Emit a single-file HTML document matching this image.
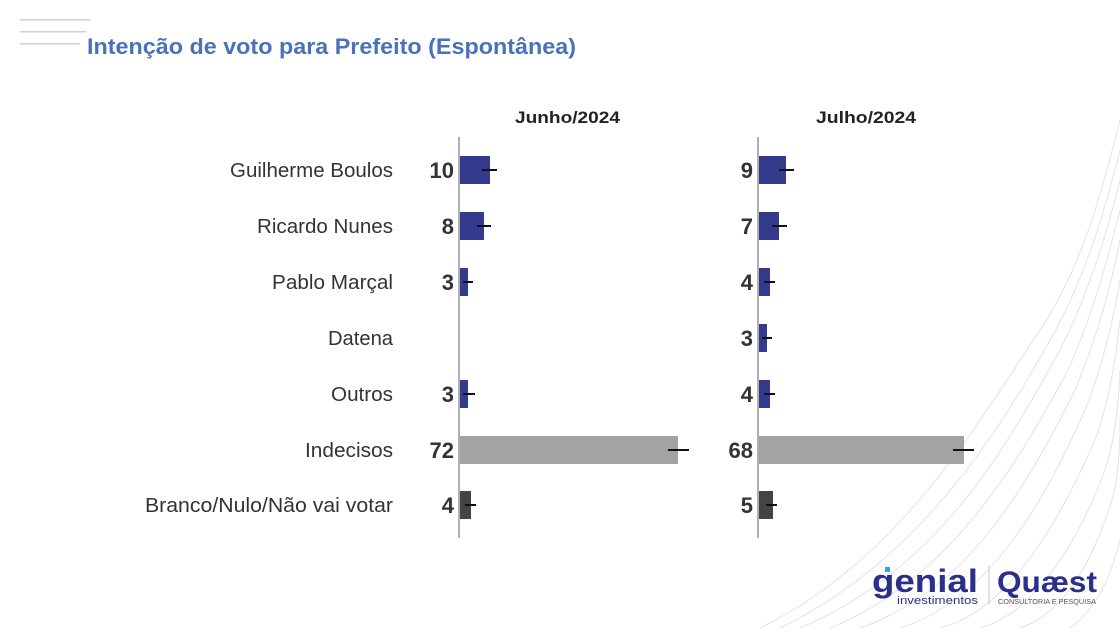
<!DOCTYPE html>
<html><head><meta charset="utf-8"><style>
body{margin:0;width:1120px;height:628px;background:#fff;overflow:hidden;font-family:"Liberation Sans",sans-serif;}
</style></head><body>
<svg width="1120" height="628" xmlns="http://www.w3.org/2000/svg" font-family="Liberation Sans, sans-serif">
<g stroke="#d8dce4" fill="none" stroke-width="1" opacity="0.8">
<path d="M760 628 C900 560 980 420 1040 330 C1080 270 1100 200 1120 120"/>
<path d="M780 628 C920 560 1000 430 1050 340 C1085 280 1105 210 1120 150"/>
<path d="M800 628 C940 570 1010 440 1060 350 C1090 290 1108 230 1120 180"/>
<path d="M830 628 C950 580 1020 460 1068 370 C1095 310 1110 250 1120 210"/>
<path d="M860 628 C970 590 1030 480 1075 390 C1100 330 1112 280 1120 240"/>
<path d="M900 628 C990 600 1045 500 1085 410 C1105 360 1115 310 1120 280"/>
<path d="M940 628 C1010 610 1060 520 1095 440 C1110 400 1117 350 1120 320"/>
<path d="M980 628 C1030 615 1075 550 1105 470 C1115 440 1119 400 1120 370"/>
<path d="M1020 628 C1060 615 1090 570 1112 500 C1118 480 1120 450 1120 420"/>
<path d="M1070 628 C1095 610 1110 580 1120 540"/>
</g>
<g fill="#d0d0d0">
<rect x="20" y="19" width="70" height="1.5"/><rect x="20" y="31" width="66" height="1.5"/><rect x="20" y="43" width="60" height="1.5"/>
</g>
<text x="87" y="54" font-size="22" font-weight="bold" fill="#4a72b8" textLength="489" lengthAdjust="spacingAndGlyphs">Intenção de voto para Prefeito (Espontânea)</text>
<text x="515" y="123" font-size="17" font-weight="bold" fill="#222" textLength="105" lengthAdjust="spacingAndGlyphs">Junho/2024</text>
<text x="816" y="123" font-size="17" font-weight="bold" fill="#222" textLength="100" lengthAdjust="spacingAndGlyphs">Julho/2024</text>
<g font-size="20" fill="#333" text-anchor="end" lengthAdjust="spacingAndGlyphs">
<text x="393" y="177" textLength="163" lengthAdjust="spacingAndGlyphs">Guilherme Boulos</text>
<text x="393" y="233" textLength="136" lengthAdjust="spacingAndGlyphs">Ricardo Nunes</text>
<text x="393" y="289" textLength="121" lengthAdjust="spacingAndGlyphs">Pablo Marçal</text>
<text x="393" y="345" textLength="65" lengthAdjust="spacingAndGlyphs">Datena</text>
<text x="393" y="401" textLength="62" lengthAdjust="spacingAndGlyphs">Outros</text>
<text x="393" y="457" textLength="88" lengthAdjust="spacingAndGlyphs">Indecisos</text>
<text x="393" y="512" textLength="248" lengthAdjust="spacingAndGlyphs">Branco/Nulo/Não vai votar</text>
</g>
<g>
<rect x="460" y="156" width="30" height="28" fill="#343a8c"/>
<rect x="460" y="212" width="24" height="28" fill="#343a8c"/>
<rect x="460" y="268" width="8" height="28" fill="#343a8c"/>
<rect x="460" y="380" width="8" height="28" fill="#343a8c"/>
<rect x="460" y="436" width="218" height="28" fill="#a3a3a3"/>
<rect x="460" y="491" width="11" height="28" fill="#444"/>
<rect x="759" y="156" width="27" height="28" fill="#343a8c"/>
<rect x="759" y="212" width="20" height="28" fill="#343a8c"/>
<rect x="759" y="268" width="11" height="28" fill="#343a8c"/>
<rect x="759" y="324" width="8" height="28" fill="#343a8c"/>
<rect x="759" y="380" width="11" height="28" fill="#343a8c"/>
<rect x="759" y="436" width="205" height="28" fill="#a3a3a3"/>
<rect x="759" y="491" width="14" height="28" fill="#444"/>
</g>
<g stroke="#111" stroke-width="2">
<line x1="482" y1="170" x2="497" y2="170"/><line x1="477" y1="226" x2="491" y2="226"/>
<line x1="463" y1="282" x2="473" y2="282"/><line x1="463" y1="394" x2="475" y2="394"/>
<line x1="668" y1="450" x2="689" y2="450"/><line x1="465" y1="505" x2="476" y2="505"/>
<line x1="779" y1="170" x2="794" y2="170"/><line x1="772" y1="226" x2="787" y2="226"/>
<line x1="764" y1="282" x2="775" y2="282"/><line x1="762" y1="338" x2="772" y2="338"/>
<line x1="764" y1="394" x2="775" y2="394"/><line x1="953" y1="450" x2="974" y2="450"/>
<line x1="766" y1="505" x2="777" y2="505"/>
</g>
<line x1="459" y1="137" x2="459" y2="538" stroke="#b0b0b0" stroke-width="2"/>
<line x1="758" y1="137" x2="758" y2="538" stroke="#b0b0b0" stroke-width="2"/>
<g font-size="22" font-weight="bold" fill="#333" text-anchor="end">
<text x="454" y="178">10</text><text x="454" y="234">8</text><text x="454" y="290">3</text>
<text x="454" y="402">3</text><text x="454" y="458">72</text><text x="454" y="513">4</text>
<text x="753" y="178">9</text><text x="753" y="234">7</text><text x="753" y="290">4</text>
<text x="753" y="346">3</text><text x="753" y="402">4</text><text x="753" y="458">68</text><text x="753" y="513">5</text>
</g>
<text x="872" y="592" font-size="32" font-weight="bold" fill="#2a2f8c" textLength="106" lengthAdjust="spacingAndGlyphs">genial</text>
<rect x="885" y="567" width="5" height="5" fill="#3aa0e8"/>
<text x="897" y="604" font-size="11" fill="#2a2f8c" textLength="81" lengthAdjust="spacingAndGlyphs">investimentos</text>
<line x1="989" y1="566" x2="989" y2="604" stroke="#b0c8e0"/>
<text x="997" y="592" font-size="30" font-weight="bold" fill="#2a2f8c" textLength="100" lengthAdjust="spacingAndGlyphs">Quæst</text>
<text x="998" y="604" font-size="7" fill="#555" textLength="98" lengthAdjust="spacingAndGlyphs">CONSULTORIA E PESQUISA</text>
</svg>
</body></html>
